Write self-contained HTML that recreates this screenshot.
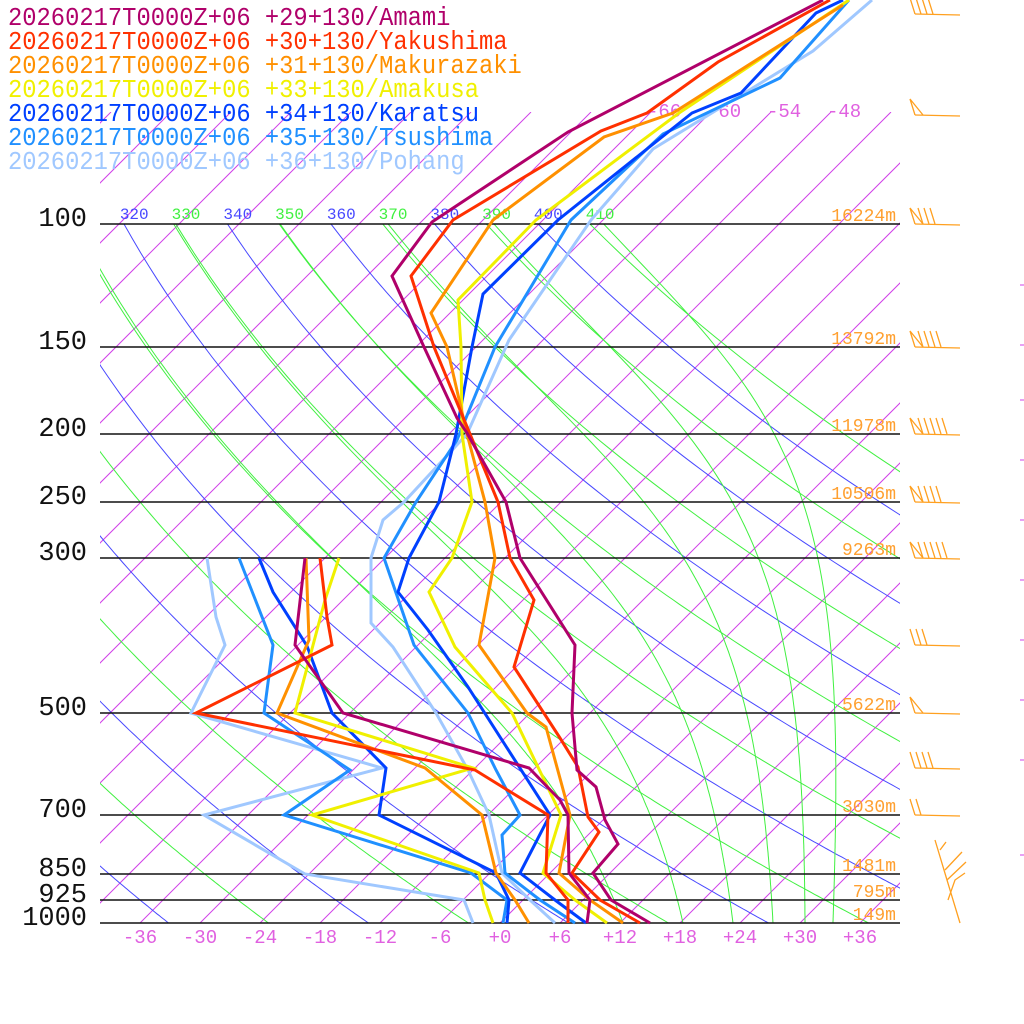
<!DOCTYPE html>
<html><head><meta charset="utf-8"><style>
html,body{margin:0;padding:0;background:#fff;width:1024px;height:1024px;overflow:hidden}
svg{display:block}
</style></head><body>
<svg id="s" width="1024" height="1024" xmlns="http://www.w3.org/2000/svg">
<defs>
<clipPath id="cp"><rect x="100" y="224" width="800" height="699"/></clipPath>
<clipPath id="ci"><rect x="100" y="112" width="800" height="811"/></clipPath>
<clipPath id="cl"><rect x="100" y="190" width="800" height="40"/></clipPath>
</defs>
<g id="grid"></g>
<g id="ser"></g>
<g id="txt" font-family="Liberation Mono, monospace"></g>
</svg>
<script>
const NS="http://www.w3.org/2000/svg";
function el(t,a,p){const e=document.createElementNS(NS,t);for(const k in a)e.setAttribute(k,a[k]);(p||document.getElementById('grid')).appendChild(e);return e;}
function Y(p){return 923-303.6*Math.log(1000/p);}
function X(T,y){return 500+10*T+(923-y);}
const grid=document.getElementById('grid');
const gi=el('g',{'clip-path':'url(#ci)'},grid);
for(let T=-126;T<=40;T+=6){const y1=923,y2=112;el('line',{x1:X(T,y1),y1:y1,x2:X(T,y2),y2:y2,stroke:'#d040e8','stroke-width':1},gi);}
const gd=el('g',{'clip-path':'url(#cp)'},grid);
const gl=el('g',{'clip-path':'url(#cl)'},grid);
for(let th=200;th<=410;th+=10){const col=((th/10)%2==0)?'#4848ff':'#40f040';let pts=[];
for(let p=100;p<=1000;p+=5){const y=Y(p);const T=th*Math.pow(p/1000,0.286)-273.15;pts.push(X(T,y).toFixed(1)+','+y.toFixed(1));}
el('polyline',{points:pts.join(' '),fill:'none',stroke:col,'stroke-width':1},gd);
const xt=X(th*Math.pow(0.1,0.286)-273.15,224);
const t=el('text',{x:xt-4,y:219,fill:col,'font-size':16,'font-family':'Liberation Mono, monospace'},gl);t.textContent=th;}
function es(T){return 6.112*Math.exp(17.67*T/(T+243.5));}
const gm=el('g',{'clip-path':'url(#cp)'},grid);
[12.3,18.3,23.3,27.3,30.5,33.3].forEach(T0=>{let T=T0+273.15,p=1000,pts=[];
while(p>=100){const y=Y(p);pts.push(X(T-273.15,y).toFixed(1)+','+y.toFixed(1));
for(let i=0;i<10;i++){const e=es(T-273.15),rs=0.622*e/(p-e);const Lv=2.5e6,Rd=287,cp=1005;
const dTdp=(Rd*T+Lv*rs)/(p*(cp+Lv*Lv*rs*0.622/(Rd*T*T)));T-=dTdp*0.5;p-=0.5;}}
el('polyline',{points:pts.join(' '),fill:'none',stroke:'#40f040','stroke-width':1},gm);});
const P=[[100,224,'16224m'],[150,347,'13792m'],[200,434,'11978m'],[250,502,'10506m'],[300,558,'9263m'],[500,713,'5622m'],[700,815,'3030m'],[850,874,'1481m'],[925,900,'795m'],[1000,923,'149m']];
P.forEach(a=>{el('line',{x1:100,y1:a[1],x2:900,y2:a[1],stroke:'#111','stroke-width':1.5});
let t=el('text',{x:87,y:a[1]+2,'text-anchor':'end','font-size':27,'font-family':'Liberation Mono, monospace',fill:'#111'});t.textContent=a[0];
t=el('text',{x:896,y:a[1]-3,'text-anchor':'end','font-size':18,'font-family':'Liberation Mono, monospace',fill:'#ffa030'});t.textContent=a[2];});
[-66,-60,-54,-48].forEach(T=>{const t=el('text',{x:X(T,112)-4,y:117,'font-size':19,'font-family':'Liberation Mono, monospace',fill:'#e060e0'});t.textContent=T;});
for(let T=-36;T<=36;T+=6){const t=el('text',{x:500+10*T,y:943,'text-anchor':'middle','font-size':19,'font-family':'Liberation Mono, monospace',fill:'#e060e0'});t.textContent=(T>=0?'+':'')+T;}
[285,345,400,460,520,580,640,700,760,855].forEach(y=>el('line',{x1:1020,y1:y,x2:1024,y2:y,stroke:'#d040e8','stroke-width':1}));
const WB=[[14,4,0],[115,0,1],[224,3,1],[347,4,1],[434,5,1],[502,4,1],[558,5,1],[645,3,0],[713,0,1],[768,4,0],[815,2,0]];
WB.forEach(w=>{const y=w[0];let x0=915;el('line',{x1:915,y1:y,x2:960,y2:y+1,stroke:'#ffa020','stroke-width':1.3});
let x=x0;if(w[2]){el('polyline',{points:`${x},${y} ${x-5},${y-16} ${x+8},${y}`,fill:'none',stroke:'#ffa020','stroke-width':1.3});x+=8;}
for(let i=0;i<w[1];i++){el('line',{x1:x+i*6,y1:y,x2:x+i*6-5,y2:y-16,stroke:'#ffa020','stroke-width':1.3});}});
el('polyline',{points:'960,923 947,880 935,840',fill:'none',stroke:'#ffa020','stroke-width':1.3});
el('line',{x1:945,y1:870,x2:962,y2:852,stroke:'#ffa020','stroke-width':1.3});
el('line',{x1:947,y1:880,x2:966,y2:862,stroke:'#ffa020','stroke-width':1.3});
el('line',{x1:940,y1:850,x2:946,y2:842,stroke:'#ffa020','stroke-width':1.3});
el('polyline',{points:'948,900 955,880 965,873',fill:'none',stroke:'#ffa020','stroke-width':1.3});
const S=[
['#a0c8ff','Pohang','+36+130',
'872,0 813,51 653,149 591,220 509,340 467,434 404,502 383,520 371,558 371,623 393,647 436,713 468,770 489,815 502,873 530,900 555,923',
'207,558 216,617 225,645 191,713 382,768 204,815 305,874 464,900 473,923'],
['#2090ff','Tsushima','+35+130',
'849,0 780,78 663,134 571,220 495,347 457,440 416,502 384,558 414,645 468,713 496,770 520,815 502,835 505,873 540,900 575,923',
'239,558 273,645 264,713 350,770 284,815 471,873 507,900 503,923'],
['#0040ff','Karatsu','+34+130',
'843,0 816,13 741,93 692,113 558,220 483,294 472,347 456,434 439,502 409,558 398,592 428,630 468,687 550,815 520,873 555,900 586,923',
'259,558 273,592 307,646 332,713 386,768 379,815 496,873 509,900 507,923'],
['#f0f000','Amakusa','+33+130',
'849,0 679,113 536,220 458,300 461,347 462,434 472,502 452,558 429,592 455,647 512,713 561,815 543,873 575,900 607,923',
'339,558 325,600 295,713 473,768 312,815 479,873 485,900 493,923'],
['#ff9000','Makurazaki','+31+130',
'843,5 673,113 604,137 493,220 431,313 447,347 467,434 485,502 495,558 479,645 527,713 546,727 570,815 559,873 590,900 623,923',
'306,558 309,640 277,713 425,768 482,815 496,873 515,900 529,923'],
['#ff3000','Yakushima','+30+130',
'830,0 718,62 647,113 601,131 453,220 411,276 434,347 470,434 498,502 510,558 534,600 514,667 560,738 578,767 588,817 599,832 572,873 600,900 640,923',
'320,558 327,617 332,645 196,713 475,770 548,815 546,873 568,900 568,923'],
['#b0006a','Amami','+29+130',
'823,0 568,132 432,222 392,276 424,347 457,418 467,433 506,502 520,558 575,645 572,713 577,770 596,787 605,820 618,844 593,873 611,900 650,923',
'305,558 295,645 343,713 529,768 560,800 568,815 569,873 590,900 587,923']
];
const gs=document.getElementById('ser');
S.forEach(s=>{el('polyline',{points:s[4],fill:'none',stroke:s[0],'stroke-width':3,'stroke-linejoin':'miter'},gs);
el('polyline',{points:s[3],fill:'none',stroke:s[0],'stroke-width':3,'stroke-linejoin':'miter'},gs);});
const gt=document.getElementById('txt');
S.slice().reverse().forEach((s,i)=>{const t=el('text',{x:8,y:0,'font-size':23.8,fill:s[0],transform:`translate(0,${25+24*i}) scale(1,1.1)`},gt);t.textContent='20260217T0000Z+06 '+s[2]+'/'+s[1];});
</script>
</body></html>
